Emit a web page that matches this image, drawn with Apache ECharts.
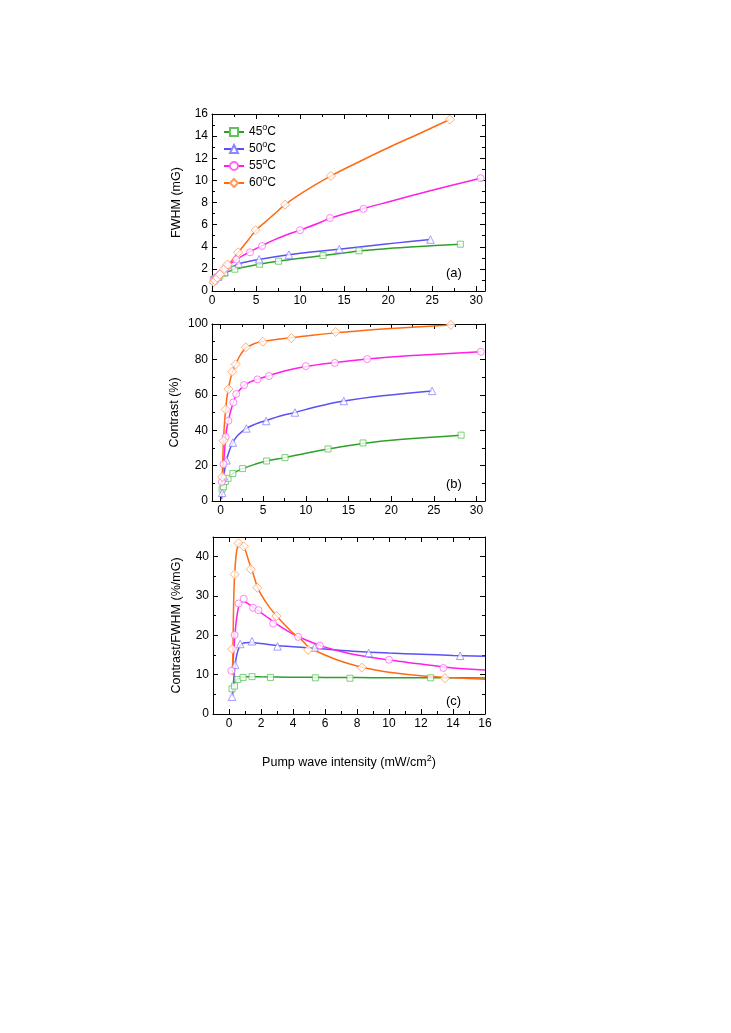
<!DOCTYPE html>
<html>
<head>
<meta charset="utf-8">
<script src="https://cdn.jsdelivr.net/npm/echarts@6/dist/echarts.min.js"></script>
<style>
  html, body { margin: 0; padding: 0; background: #fff; }
  #chart { width: 731px; height: 1033px; }
</style>
</head>
<body>
<div id="chart"></div>
<script>
// series names
const temps = ['45°C', '50°C', '55°C', '60°C'];

// measured points: pump intensity, FWHM (a), contrast (b), contrast/FWHM (c)
const x45 = [0.19, 0.34, 0.56, 0.88, 1.44, 2.59, 5.4, 7.56, 12.6, 16.7, 28.2];
const fwhm45 = [1.05, 1.12, 1.25, 1.38, 1.6, 1.97, 2.42, 2.69, 3.2, 3.63, 4.23];
const contrast45 = [6.7, 8.0, 11.0, 12.8, 15.5, 18.3, 22.6, 24.5, 29.4, 32.8, 37.2];
const ratio45 = [6.4, 7.1, 8.8, 9.3, 9.5, 9.3, 9.2, 9.1, 9.2];

const x50 = [0.19, 0.38, 0.7, 1.44, 3.03, 5.35, 8.73, 14.45, 24.8];
const fwhm50 = [1.0, 1.15, 1.3, 1.75, 2.48, 2.87, 3.29, 3.78, 4.65];
const contrast50 = [4.6, 14, 23, 33, 41, 45.2, 50, 56.5, 62.2];
const ratio50 = [4.4, 12.5, 17.8, 18.5, 17.2, 16.9, 15.5, 14.8];

const x55 = [0.15, 0.35, 0.6, 0.92, 1.5, 1.84, 2.76, 4.32, 5.68, 10.0, 13.4, 17.2, 30.5];
const fwhm55 = [0.98, 1.04, 1.29, 1.55, 2.06, 2.29, 2.85, 3.5, 4.07, 5.5, 6.6, 7.42, 10.2];
const contrast55 = [10.8, 20.8, 36.2, 45.3, 55.7, 60.4, 65.5, 68.7, 70.6, 76.2, 78, 80.2, 84.3];
const ratio55 = [11.0, 20.1, 28.1, 29.3, 27.0, 26.4, 23.0, 19.6, 17.4, 13.8, 11.7];

const x60 = [0.2, 0.35, 0.6, 0.92, 1.36, 1.77, 2.96, 4.95, 8.3, 13.5, 27.0];
const fwhm60 = [0.8, 0.96, 1.2, 1.5, 1.98, 2.4, 3.5, 5.5, 7.8, 10.4, 15.5];
const contrast60 = [13.6, 34, 51.7, 63.2, 73, 77.2, 86.8, 90, 92, 95.5, 99.5];
const ratio60 = [16.5, 35.5, 43.4, 42.6, 36.8, 32.1, 24.9, 16.3, 11.8, 9.1];

// fitted curves, panel (a)
const fitAX45 = [0, 0.5, 1, 1.5, 2, 2.6, 4, 5.4, 7.5, 10, 12.6, 16.7, 20, 24, 28.2];
const fitAY45 = [0.95, 1.15, 1.4, 1.6, 1.8, 1.97, 2.22, 2.42, 2.68, 2.95, 3.2, 3.62, 3.84, 4.04, 4.23];
const fitAX50 = [0, 0.5, 1, 1.5, 2, 3, 4, 5.3, 7, 8.7, 11, 14.4, 18, 21, 24.8];
const fitAY50 = [0.9, 1.2, 1.45, 1.75, 2.05, 2.45, 2.65, 2.85, 3.08, 3.28, 3.5, 3.78, 4.1, 4.35, 4.65];
const fitAX55 = [0, 0.5, 1, 1.5, 2, 2.8, 3.5, 4.3, 5.7, 7, 8.5, 10, 12, 13.5, 17.2, 20, 25, 30.5];
const fitAY55 = [0.85, 1.1, 1.6, 2.05, 2.4, 2.85, 3.2, 3.55, 4.1, 4.6, 5.08, 5.5, 6.1, 6.6, 7.45, 8.05, 9.1, 10.2];
const fitAX60 = [0, 0.5, 1, 1.5, 2, 3, 4, 5, 6, 7, 8.3, 10, 13.5, 17, 20, 24, 27];
const fitAY60 = [0.6, 1.05, 1.55, 2.0, 2.5, 3.5, 4.5, 5.5, 6.2, 6.9, 7.8, 8.75, 10.4, 11.8, 12.95, 14.4, 15.5];

// fitted curves, panel (b)
const fitBX45 = [0.12, 0.19, 0.34, 0.56, 0.88, 1.44, 2, 2.59, 4, 5.4, 7.56, 10, 12.6, 16.7, 21, 28.2];
const fitBY45 = [3, 6.7, 8.2, 10.8, 12.9, 15.5, 17, 18.3, 20.7, 22.6, 24.5, 27, 29.4, 32.5, 34.7, 37.2];
const fitBX50 = [0.12, 0.19, 0.3, 0.38, 0.5, 0.7, 1.0, 1.44, 2, 3.03, 4, 5.35, 7, 8.73, 11, 14.45, 19, 24.8];
const fitBY50 = [1, 4.6, 10, 14, 18, 23, 28, 33, 37, 41, 43.3, 45.5, 48, 50, 53, 56.5, 59.5, 62.2];
const fitBX55 = [0.1, 0.15, 0.25, 0.35, 0.5, 0.6, 0.75, 0.92, 1.2, 1.5, 1.84, 2.3, 2.76, 3.5, 4.32, 5.68, 7.5, 10, 13.4, 17.2, 22, 30.5];
const fitBY55 = [4, 10.8, 16, 20.8, 30, 36.2, 41.5, 45.5, 51, 55.7, 60, 63, 65.2, 67.3, 68.8, 70.8, 73.5, 76, 78.2, 80.2, 82, 84.3];
const fitBX60 = [0.12, 0.2, 0.3, 0.4, 0.5, 0.6, 0.75, 0.92, 1.1, 1.36, 1.6, 1.8, 2.2, 2.6, 3.0, 4, 5, 6.5, 8.3, 11, 13.5, 17, 21, 27];
const fitBY60 = [5, 13.6, 29, 39, 46.5, 51.7, 58.5, 63.2, 67.8, 72.5, 75.5, 77.5, 81.5, 84.5, 86.5, 89, 90.2, 91.2, 92.2, 93.8, 95, 96.5, 97.8, 99.5];

// fitted curves, panel (c)
const fitCX45 = [0.22, 0.3, 0.4, 0.5, 0.6, 0.8, 1.0, 1.5, 2, 3, 4, 6, 8, 10, 12, 14, 16];
const fitCY45 = [5.5, 7.3, 8.3, 8.8, 9.1, 9.35, 9.45, 9.5, 9.45, 9.4, 9.35, 9.3, 9.25, 9.2, 9.2, 9.2, 9.15];
const fitCX50 = [0.22, 0.3, 0.4, 0.5, 0.6, 0.7, 0.85, 1.0, 1.3, 1.6, 2.0, 3.0, 4.0, 5.0, 6.0, 8.0, 10, 12, 14, 16];
const fitCY50 = [4.5, 9, 13, 15.3, 16.6, 17.4, 17.9, 18.1, 18.2, 18.1, 17.9, 17.4, 17.1, 16.8, 16.5, 15.9, 15.5, 15.2, 14.9, 14.7];
const fitCX55 = [0.2, 0.3, 0.4, 0.5, 0.6, 0.7, 0.85, 1.0, 1.25, 1.5, 2.0, 2.5, 3.0, 4.0, 5.0, 6.0, 7.0, 8.0, 10, 12, 14, 16];
const fitCY55 = [10.5, 16, 21.5, 25, 27.2, 28.2, 28.6, 28.5, 27.9, 27.2, 25.8, 24.3, 22.8, 20.3, 18.5, 17.0, 15.9, 15.0, 13.7, 12.7, 11.7, 11.2];
const fitCX60 = [0.22, 0.26, 0.3, 0.36, 0.45, 0.55, 0.65, 0.8, 1.0, 1.25, 1.5, 1.75, 2.0, 2.5, 3.0, 4.0, 4.5, 5.0, 6.0, 7.0, 8.0, 9.0, 10, 12, 14, 16];
const fitCY60 = [10, 20, 30, 36, 40.5, 42.8, 43.5, 43.2, 41.8, 38.7, 35.8, 32.6, 30.4, 27.3, 24.8, 20.6, 19.0, 17.0, 15.0, 13.4, 12.2, 11.3, 10.6, 9.7, 9.2, 8.85];

// tick values
const xMajorAB = [0, 5, 10, 15, 20, 25, 30];
const xMinorAB = [2.5, 7.5, 12.5, 17.5, 22.5, 27.5];
const yMajorA = [0, 2, 4, 6, 8, 10, 12, 14, 16];
const yMinorA = [1, 3, 5, 7, 9, 11, 13, 15];
const yMajorB = [0, 20, 40, 60, 80, 100];
const yMinorB = [10, 30, 50, 70, 90];
const xMajorC = [0, 2, 4, 6, 8, 10, 12, 14, 16];
const xMinorC = [-1, 1, 3, 5, 7, 9, 11, 13, 15];
const yMajorC = [0, 10, 20, 30, 40];
const yMinorC = [5, 15, 25, 35, 45];

const lineColors = ['#2ea12a', '#5b4ff5', '#ff1fe6', '#ff6a10'];
const markColors = ['#5ec45a', '#8c86ff', '#ff66f2', '#ff9a5e'];
const symbols = ['rect', 'triangle', 'circle', 'diamond'];
const symbolSizes = [6, 7.5, 7, 9];
const FONT = 'Liberation Sans, Arial, sans-serif';

const supRich = { s: { fontSize: 9, fontFamily: FONT, color: '#000', verticalAlign: 'top', lineHeight: 9 } };

function axisSet(dim, gi, min, max, majors, minors, extra) {
  const base = {
    type: 'value', gridIndex: gi, min: min, max: max,
    splitLine: { show: false },
    axisLine: { show: false, onZero: false },
    axisLabel: { show: false },
    axisTick: { show: false }
  };
  const pos = dim === 'x' ? ['bottom', 'top'] : ['left', 'right'];
  const line = { show: true, onZero: false, lineStyle: { color: '#000', width: 1 } };
  const tk = (vals, len) => ({ show: true, inside: true, length: len, customValues: vals, lineStyle: { color: '#000', width: 1 } });
  return [
    Object.assign({}, base, {
      position: pos[0], axisLine: line, axisTick: tk(majors, 5),
      axisLabel: { show: true, customValues: majors, color: '#000', fontSize: 12, fontFamily: FONT, margin: 4 }
    }, extra || {}),
    Object.assign({}, base, { position: pos[0], axisTick: tk(minors, 3) }),
    Object.assign({}, base, { position: pos[1], axisLine: line, axisTick: tk(majors, 5) }),
    Object.assign({}, base, { position: pos[1], axisTick: tk(minors, 3) })
  ];
}

const nameStyle = { color: '#000', fontSize: 12.5, fontFamily: FONT, lineHeight: 18, rich: supRich };

const xAxis = [].concat(
  axisSet('x', 0, 0, 31, xMajorAB, xMinorAB),
  axisSet('x', 1, -1, 31, xMajorAB, xMinorAB),
  axisSet('x', 2, -1, 16, xMajorC, xMinorC, {
    name: 'Pump wave intensity (mW/cm{s|2})', nameLocation: 'middle', nameGap: 40, nameTextStyle: nameStyle
  })
);
const yAxis = [].concat(
  axisSet('y', 0, 0, 16, yMajorA, yMinorA, { name: 'FWHM (mG)', nameLocation: 'middle', nameGap: 26, nameTextStyle: nameStyle }),
  axisSet('y', 1, 0, 100, yMajorB, yMinorB, { name: 'Contrast (%)', nameLocation: 'middle', nameGap: 28, nameTextStyle: nameStyle }),
  axisSet('y', 2, 0, 45, yMajorC, yMinorC, { name: 'Contrast/FWHM (%/mG)', nameLocation: 'middle', nameGap: 27, nameTextStyle: nameStyle })
);

function pts(xs, ys) {
  return ys.map((y, i) => [xs[i], y]);
}

const xs = [x45, x50, x55, x60];
const panels = [
  { marks: [fwhm45, fwhm50, fwhm55, fwhm60], fx: [fitAX45, fitAX50, fitAX55, fitAX60], fy: [fitAY45, fitAY50, fitAY55, fitAY60], clip: false },
  { marks: [contrast45, contrast50, contrast55, contrast60], fx: [fitBX45, fitBX50, fitBX55, fitBX60], fy: [fitBY45, fitBY50, fitBY55, fitBY60], clip: false },
  { marks: [ratio45, ratio50, ratio55, ratio60], fx: [fitCX45, fitCX50, fitCX55, fitCX60], fy: [fitCY45, fitCY50, fitCY55, fitCY60], clip: true }
];

function markerStyle(i) {
  return { color: '#fff', borderColor: markColors[i], borderWidth: 1 };
}

const series = [];
panels.forEach((p, g) => {
  temps.forEach((t, i) => {
    series.push({
      name: t, type: 'line', xAxisIndex: g * 4, yAxisIndex: g * 4,
      data: pts(p.fx[i], p.fy[i]),
      smooth: 0.4, showSymbol: false, clip: true,
      symbol: symbols[i], symbolSize: symbolSizes[i],
      lineStyle: { color: lineColors[i], width: 1.5 },
      itemStyle: markerStyle(i), z: 2 + i
    });
    series.push({
      name: t, type: 'scatter', xAxisIndex: g * 4, yAxisIndex: g * 4,
      data: pts(xs[i], p.marks[i]), clip: p.clip,
      symbol: symbols[i], symbolSize: symbolSizes[i],
      itemStyle: markerStyle(i), z: 6 + i
    });
  });
});

const chart = echarts.init(document.getElementById('chart'), null, { renderer: 'canvas' });
chart.setOption({
  backgroundColor: '#fff',
  animation: false,
  textStyle: { fontFamily: FONT },
  grid: [
    { left: 212, top: 114, width: 273, height: 177 },
    { left: 212, top: 324, width: 273, height: 177 },
    { left: 213, top: 537, width: 272, height: 177 }
  ],
  legend: {
    data: temps, orient: 'vertical', left: 218, top: 118,
    itemWidth: 20, itemHeight: 10, itemGap: -1,
    formatter: n => n.replace('°', '{s|o}'),
    textStyle: { color: '#000', fontSize: 12, fontFamily: FONT, lineHeight: 18, rich: supRich }
  },
  graphic: [
    { type: 'text', left: 446, top: 267, style: { text: '(a)', fontSize: 13, fontFamily: FONT, fill: '#000' } },
    { type: 'text', left: 446, top: 478, style: { text: '(b)', fontSize: 13, fontFamily: FONT, fill: '#000' } },
    { type: 'text', left: 446, top: 695, style: { text: '(c)', fontSize: 13, fontFamily: FONT, fill: '#000' } }
  ],
  xAxis: xAxis,
  yAxis: yAxis,
  series: series
});
</script>
</body>
</html>
